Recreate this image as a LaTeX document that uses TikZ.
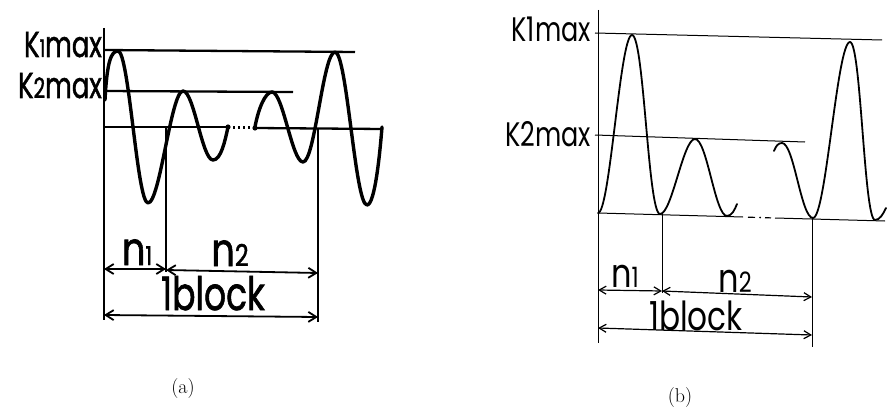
\documentclass[tikz,border=0pt]{standalone}
\usepackage{fontspec}
\usepackage{graphicx}
\newfontfamily\geoA[FakeBold=1.5]{Poppins}
\newfontfamily\geoB{Poppins}
\usetikzlibrary{arrows.meta}
\begin{document}
\begin{tikzpicture}[x=1pt,y=-1pt,
  waveA/.style={line width=3.4pt,line join=round,line cap=round},
  lineA/.style={line width=2.3pt},
  dimA/.style={line width=1.8pt,{Straight Barb[length=8pt,width=10pt]}-{Straight Barb[length=8pt,width=10pt]}},
  waveB/.style={line width=1.8pt,line join=round,line cap=round},
  lineB/.style={line width=1pt},
  dimB/.style={line width=1.2pt,{Straight Barb[length=7pt,width=8pt]}-{Straight Barb[length=7pt,width=8pt]}},
  labA/.style={inner sep=0pt,font=\geoA\fontsize{36}{36}\selectfont},
  labAbig/.style={inner sep=0pt,font=\geoA\fontsize{46}{46}\selectfont},
  labB/.style={inner sep=0pt,font=\geoB\fontsize{34}{34}\selectfont},
  labBbig/.style={inner sep=0pt,font=\geoB\fontsize{40}{40}\selectfont},
  captext/.style={inner sep=0pt,font=\fontsize{20}{20}\selectfont}]
\useasboundingbox (0,0) rectangle (892,412);

% ================= panel (a) =================
\coordinate (aTop) at (104,28);
\coordinate (aBot) at (104,320);
\coordinate (aM1) at (166,127);
\coordinate (aM1b) at (166,272);
\coordinate (aR1) at (318,128);
\coordinate (aR1b) at (318,322);
\draw[lineA] (aTop) -- (aBot);
\draw[lineA] (aM1) -- (aM1b);
\draw[lineA] (aR1) -- (aR1b);
% level lines
\draw[lineA] (104,50) -- (355,52);
\draw[lineA] (104,91) -- (293,92);
\draw[lineA] (104,127) -- (228,127);
\draw[lineA] (255,128) -- (383,129);
\draw[line width=2.2pt,dash pattern=on 2pt off 3pt] (233,127.5) -- (251,127.5);
\fill (228,127) circle (2.6pt);
\fill (255,128) circle (2.6pt);
% wave
\draw[waveA] (105,100) .. controls (107,62) and (111,51) .. (118,51)
  .. controls +(11,0) and +(-11,0) .. (148,203)
  .. controls +(12,0) and +(-12,0) .. (183,91)
  .. controls +(11,0) and +(-11,0) .. (213,160)
  .. controls +(8,0) and +(-3,14) .. (228,127);
\draw[waveA] (255,127) .. controls (258,110) and (265,92) .. (272,92)
  .. controls +(11,0) and +(-11,0) .. (303,162)
  .. controls +(12,0) and +(-12,0) .. (335,52)
  .. controls +(12,0) and +(-12,0) .. (367,205)
  .. controls +(8,0) and +(-2,25) .. (382,127);
% dimensions
\coordinate (an1a) at (104,269);
\coordinate (an1b) at (166,269);
\coordinate (an2a) at (166,270);
\coordinate (an2b) at (318,273);
\coordinate (abla) at (104,315);
\coordinate (ablb) at (318,317);
\draw[dimA] (an1a) -- (an1b);
\draw[dimA] (an2a) -- (an2b);
\draw[dimA] (abla) -- (ablb);
% labels
\node[labA,anchor=base east] (aK1) at (102,57) {\scalebox{0.72}[1]{K{\fontsize{24}{24}\selectfont 1}max}};
\node[labA,anchor=base east] (aK2) at (102,98) {\scalebox{0.72}[1]{K{\fontsize{28}{28}\selectfont 2}max}};
\node[labAbig,anchor=base] (an1) at (137,265) {\scalebox{0.8}[1]{n{\fontsize{26}{26}\selectfont 1}}};
\node[labAbig,anchor=base] (an2) at (230,266) {\scalebox{0.8}[1]{n{\fontsize{30}{30}\selectfont 2}}};
\node[labAbig,anchor=base] (abl) at (213,310) {\scalebox{0.75}[1]{1block}};
\node[captext,anchor=base] (capa) at (183,393) {(a)};

% ================= panel (b) =================
\coordinate (bTop) at (598,10);
\coordinate (bBot) at (598,343);
\coordinate (bM1) at (662,214);
\coordinate (bM1b) at (662,293);
\coordinate (bR1) at (812,218);
\coordinate (bR1b) at (812,347);
\draw[lineB] (bTop) -- (bBot);
\draw[lineB] (bM1) -- (bM1b);
\draw[lineB] (bR1) -- (bR1b);
\draw[lineB] (595,33) -- (882,40);
\draw[lineB] (595,135) -- (805,142);
\draw[lineB] (598,213) -- (743,217);
\draw[line width=1.2pt] (748,217.2) -- (755,217.4);
\fill (760,217.5) circle (1pt);
\draw[line width=1.2pt] (765,217.7) -- (771,217.9);
\draw[lineB] (775,218) -- (885,221);
% wave
\draw[waveB] (598,213) .. controls +(12,0) and +(-12,0) .. (632,35)
  .. controls +(12,0) and +(-12,0) .. (660,214)
  .. controls +(12,0) and +(-12,0) .. (695,139)
  .. controls +(12,0) and +(-12,0) .. (727,216)
  .. controls +(5,0) and +(-2,5) .. (737,204);
\draw[waveB] (774,151) .. controls +(2,-5) and +(-4,0) .. (782,143)
  .. controls +(12,0) and +(-12,0) .. (813,218)
  .. controls +(13,0) and +(-13,0) .. (850,42)
  .. controls +(11,0) and +(-11,0) .. (875,220)
  .. controls +(5,0) and +(-3,6) .. (886,208);
% dimensions
\coordinate (bn1a) at (598,290);
\coordinate (bn1b) at (662,291);
\coordinate (bn2a) at (662,291);
\coordinate (bn2b) at (812,297);
\coordinate (bbla) at (598,328);
\coordinate (bblb) at (812,335);
\draw[dimB] (bn1a) -- (bn1b);
\draw[dimB] (bn2a) -- (bn2b);
\draw[dimB] (bbla) -- (bblb);
% labels
\node[labB,anchor=base east] (bK1) at (591,42) {\scalebox{0.75}[1]{K1max}};
\node[labB,anchor=base east] (bK2) at (591,146) {\scalebox{0.75}[1]{K2max}};
\node[labBbig,anchor=base] (bn1) at (625,287) {\scalebox{0.8}[1]{n{\fontsize{28}{28}\selectfont 1}}};
\node[labBbig,anchor=base] (bn2) at (735,292) {\scalebox{0.8}[1]{n{\fontsize{28}{28}\selectfont 2}}};
\node[labBbig,anchor=base] (bbl) at (696,330) {\scalebox{0.78}[1]{1block}};
\node[captext,anchor=base] (capb) at (680,402) {(b)};
\end{tikzpicture}
\end{document}
